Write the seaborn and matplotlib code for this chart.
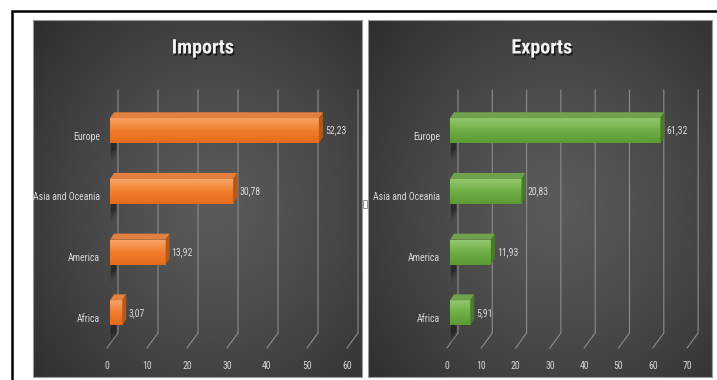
import numpy as np
import matplotlib
matplotlib.use('Agg')
import matplotlib.pyplot as plt
import matplotlib.patheffects as pe
from matplotlib import font_manager as fm
from matplotlib.patches import Polygon, Rectangle
import seaborn as sns

# Data
regions = ['Europe', 'Asia and Oceania', 'America', 'Africa']
imports = [52.23, 30.78, 13.92, 3.07]
exports = [61.32, 20.83, 11.93, 5.91]
import_ticks = [0, 10, 20, 30, 40, 50, 60]
export_ticks = [0, 10, 20, 30, 40, 50, 60, 70]

FIG_W, FIG_H = 717, 380
ROW0_PX, ROW_PX = 130.7, 60.7  # pixel centre of first bar, spacing between bars


# the original uses a very narrow (squeezed Calibri) face: look for a condensed sans one
def pick_font(bold):
    prefs = ['notosans-extracondensed', 'notosans-condensed', 'liberationsansnarrow',
             'robotocondensed', 'roboto_condensed', 'opensans_condensed', 'opensans-condensed',
             'dejavusanscondensed']
    found = {}
    for f in fm.fontManager.ttflist:
        name = f.fname.lower().replace(' ', '').rsplit('/', 1)[-1]
        if 'italic' in name or 'oblique' in name or 'mono' in name or f.style != 'normal':
            continue
        w = f.weight if isinstance(f.weight, int) else (700 if 'bold' in str(f.weight) else 400)
        if w != (700 if bold else 400):
            continue
        for i, key in enumerate(prefs):
            if key in name:
                found.setdefault(i, f.fname)
                break
    if found:
        return fm.FontProperties(fname=found[min(found)])
    return fm.FontProperties(family=['Liberation Sans', 'DejaVu Sans'],
                             weight='bold' if bold else 'normal')


FONT = pick_font(False)
FONT_B = pick_font(True)

fig = plt.figure(figsize=(FIG_W / 100, FIG_H / 100), dpi=100)
fig.patch.set_facecolor('white')
renderer = fig.canvas.get_renderer()


def fit_size(text, prop, size, max_px, min_size):
    t = fig.text(0, 0, text, fontproperties=prop, fontsize=size)
    w = t.get_window_extent(renderer).width
    t.remove()
    return max(min_size, min(size, size * max_px / w))


# one size for all the small texts, small enough for the longest category
LABEL_SIZE = fit_size('Asia and Oceania', FONT, 8.5, 66, 7.0)
TITLE_SIZE = fit_size('Imports', FONT_B, 16, 62, 14)


def to_rgb(h):
    return np.array(matplotlib.colors.to_rgb(h))


def panel(rect, zero_px, unit_px, title, title_px, values, ticks, shades):
    x0, y0, x1, y1 = rect
    light, front, dark, top, side = shades
    ax = fig.add_axes([x0 / FIG_W, 1 - y1 / FIG_H, (x1 - x0) / FIG_W, (y1 - y0) / FIG_H])
    sns.barplot(x=values, y=regions, orient='h', color=front, width=0.41,
                saturation=1, ax=ax, zorder=3, linewidth=0)

    def dx(px):
        return px / unit_px

    def X(px):
        return (px - zero_px) / unit_px

    def Y(py):
        return (py - ROW0_PX) / ROW_PX

    xlim = (X(x0), X(x1))
    ylim = (Y(y1), Y(y0))

    # dark radial background
    yy, xx = np.mgrid[0:1:200j, 0:1:300j]
    r = np.clip(np.sqrt(((xx - 0.55) / 0.75) ** 2 + ((yy - 0.52) / 0.8) ** 2), 0, 1)
    c_in, c_out = to_rgb('#5a5a5a'), to_rgb('#2c2c2c')
    img = c_in + (c_out - c_in) * (r[..., None] ** 1.3)
    ax.imshow(img, extent=(xlim[0], xlim[1], ylim[0], ylim[1]), aspect='auto',
              origin='upper', zorder=0)

    # 3D-ish gridlines with the floor diagonal
    for t in ticks:
        bx = t + dx(8)
        ax.plot([bx, bx, t + dx(-3)], [Y(90), Y(333), Y(348)],
                color='#8c8c8c', lw=0.8, zorder=1)
        ax.text(t + dx(-3), Y(366), str(t), ha='center', va='center',
                color='#d4d4d4', fontproperties=FONT, fontsize=LABEL_SIZE)

    ddx, ddy = dx(4), 6 / ROW_PX
    grad = np.linspace(0, 1, 50)[:, None, None]
    col_grad = np.where(grad < 0.5,
                        to_rgb(light) + (to_rgb(front) - to_rgb(light)) * grad * 2,
                        to_rgb(front) + (to_rgb(dark) - to_rgb(front)) * (grad - 0.5) * 2)
    for patch, v, name in zip(ax.patches, values, regions):
        xl, w = patch.get_x(), patch.get_width()
        yt, h = patch.get_y(), patch.get_height()
        yb = yt + h
        im = ax.imshow(col_grad, extent=(xl, xl + w, yb, yt), aspect='auto',
                       origin='upper', zorder=4)
        im.set_clip_path(patch)
        ax.add_patch(Polygon([(xl, yt), (xl + w, yt), (xl + w + ddx, yt - ddy), (xl + ddx, yt - ddy)],
                             closed=True, fc=top, ec='none', zorder=4))
        ax.add_patch(Polygon([(xl + w, yt), (xl + w, yb), (xl + w + ddx, yb - ddy), (xl + w + ddx, yt - ddy)],
                             closed=True, fc=side, ec='none', zorder=4))
        # soft shadow on the back wall under each bar
        for k, a in enumerate([0.10, 0.15, 0.22]):
            s = 1 - k * 0.25
            ax.add_patch(Polygon([(xl + ddx * 0.2, yb), (xl + ddx * 1.6, yb - ddy),
                                  (xl + ddx * 1.6, yb + 0.2 * s), (xl + ddx * 0.2, yb + 0.3 * s)],
                                 closed=True, fc='black', ec='none', alpha=a, zorder=2))
        ax.text(xl + w + dx(6), (yt + yb) / 2, f'{v:.2f}'.replace('.', ','),
                ha='left', va='center', color='#d9d9d9', fontproperties=FONT,
                fontsize=LABEL_SIZE, zorder=5)
        ax.text(dx(-10), (yt + yb) / 2 + 6 / ROW_PX, name, ha='right', va='center',
                color='#d9d9d9', fontproperties=FONT, fontsize=LABEL_SIZE)

    ax.text(X(title_px), Y(48), title, ha='center', va='center', color='#f2f2f2',
            fontproperties=FONT_B, fontsize=TITLE_SIZE,
            path_effects=[pe.withSimplePatchShadow(offset=(1, -1.5), shadow_rgbFace='black', alpha=0.6)])

    ax.set_xlim(xlim)
    ax.set_ylim(ylim)
    ax.set_xticks([])
    ax.set_yticks([])
    ax.set_xlabel('')
    ax.set_ylabel('')
    for s in ax.spines.values():
        s.set_color('#9a9a9a')
        s.set_linewidth(0.8)
    return ax


panel((33, 20, 362, 377), 110, 4.0, 'Imports', 203, imports, import_ticks,
      ('#f7a466', '#f07d2c', '#e46c1a', '#e2803f', '#b4581c'))
panel((368, 20, 712, 377), 450, 3.43, 'Exports', 542, exports, export_ticks,
      ('#93c76e', '#6eae45', '#5c9b35', '#6fa24c', '#487c2b'))

# outer frame and the little handle between the panels
fig.add_artist(Rectangle((12 / FIG_W, -0.1), 1.2, 1.1 - 10.5 / FIG_H, transform=fig.transFigure,
                         fill=False, ec='black', lw=1.8))
fig.add_artist(Rectangle((362.5 / FIG_W, 1 - 208 / FIG_H), 4 / FIG_W, 8 / FIG_H,
                         transform=fig.transFigure, fc='white', ec='#888888', lw=0.6))

fig.savefig('out.png', dpi=100)
